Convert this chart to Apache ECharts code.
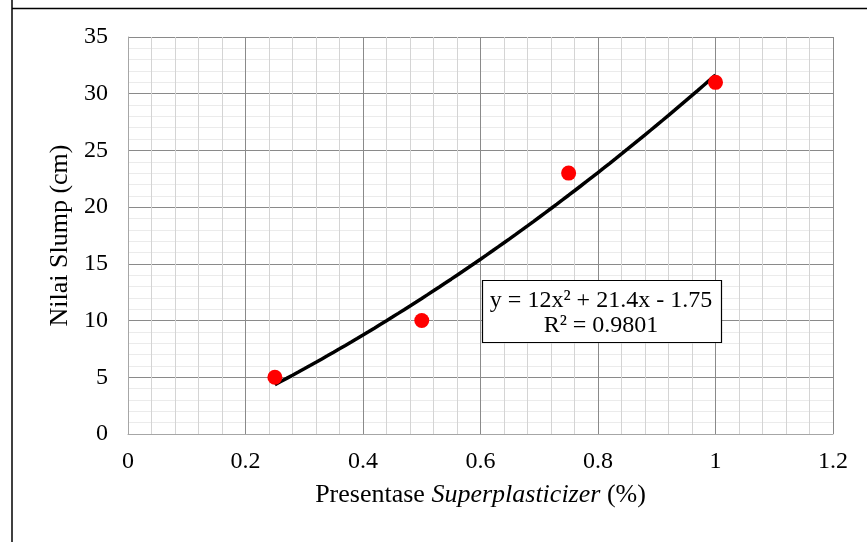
<!DOCTYPE html>
<html><head><meta charset="utf-8">
<script src="https://cdn.jsdelivr.net/npm/echarts@6/dist/echarts.min.js"></script>
<style>html,body{margin:0;padding:0;background:#fff}#c{width:867px;height:542px}</style>
</head><body><div id="c"></div>
<script>
var xValues = [0.25, 0.5, 0.75, 1];
var slumpValues = [5, 10, 23, 31];
var trendCoefficients = [12, 21.4, -1.75]; // from the chart's equation: a x^2 + b x + c
var trendRange = [0.25, 1];
var xTicks = ['0', '0.2', '0.4', '0.6', '0.8', '1', '1.2'];
var yTicks = ['0', '5', '10', '15', '20', '25', '30', '35'];

var points = xValues.map(function (x, i) { return [x, slumpValues[i]]; });
var trend = [];
for (var k = 0; k <= 75; k++) {
  var x = trendRange[0] + (trendRange[1] - trendRange[0]) * k / 75;
  trend.push([x, trendCoefficients[0] * x * x + trendCoefficients[1] * x + trendCoefficients[2]]);
}
var font = '"Liberation Serif", "Times New Roman", serif';
var chart = echarts.init(document.getElementById('c'));
chart.setOption({
  animation: false,
  backgroundColor: '#fff',
  grid: { left: 128, right: 34, top: 37, bottom: 108 },
  xAxis: {
    type: 'value', min: 0, max: 1.2, interval: 0.2,
    name: '{n|Presentase }{i|Superplasticizer}{n| (%)}',
    nameLocation: 'middle', nameGap: 48,
    nameTextStyle: { rich: { n: { fontFamily: font, fontSize: 26, color: '#000' }, i: { fontFamily: font, fontSize: 26, fontStyle: 'italic', color: '#000' } } },
    axisLine: { show: true, lineStyle: { color: '#a6a6a6', width: 1 } },
    axisTick: { show: false },
    axisLabel: { margin: 16, fontFamily: font, fontSize: 24, color: '#000', formatter: function (v) { return xTicks[Math.round(v / 0.2)]; } },
    splitLine: { show: true, lineStyle: { color: '#8a8a8a', width: 1 } },
    minorTick: { show: false, splitNumber: 5 },
    minorSplitLine: { show: true, lineStyle: { color: '#d4d4d4', width: 1 } }
  },
  yAxis: {
    type: 'value', min: 0, max: 35, interval: 5,
    name: 'Nilai Slump (cm)', nameLocation: 'middle', nameGap: 44, nameRotate: 90,
    nameTextStyle: { fontFamily: font, fontSize: 26, color: '#000' },
    axisLine: { show: true, lineStyle: { color: '#a6a6a6', width: 1 } },
    axisTick: { show: false },
    axisLabel: { margin: 20, fontFamily: font, fontSize: 24, color: '#000', formatter: function (v) { return yTicks[Math.round(v / 5)]; } },
    splitLine: { show: true, lineStyle: { color: '#8a8a8a', width: 1 } },
    minorTick: { show: false, splitNumber: 5 },
    minorSplitLine: { show: true, lineStyle: { color: '#ebebeb', width: 1 } }
  },
  series: [
    { type: 'line', data: trend, showSymbol: false, symbol: 'none', lineStyle: { color: '#000', width: 3.5 }, z: 3 },
    { type: 'scatter', data: points, symbol: 'circle', symbolSize: 15, itemStyle: { color: '#ff0000', opacity: 1 }, z: 4 }
  ],
  graphic: [
    { type: 'line', shape: { x1: 12, y1: 0, x2: 12, y2: 542 }, style: { stroke: '#000', lineWidth: 1.5 } },
    { type: 'line', shape: { x1: 12, y1: 8.5, x2: 867, y2: 8.5 }, style: { stroke: '#000', lineWidth: 1.5 } },
    { type: 'rect', shape: { x: 482.5, y: 280.5, width: 239, height: 62 }, style: { fill: '#fff', stroke: '#000', lineWidth: 1.2 }, z: 10 },
    { type: 'text', x: 601, y: 301, style: { text: 'y = 12x² + 21.4x - 1.75', font: '24px ' + font, fill: '#000', align: 'center', verticalAlign: 'middle' }, z: 11 },
    { type: 'text', x: 601, y: 326, style: { text: 'R² = 0.9801', font: '24px ' + font, fill: '#000', align: 'center', verticalAlign: 'middle' }, z: 11 }
  ]
});
</script></body></html>
